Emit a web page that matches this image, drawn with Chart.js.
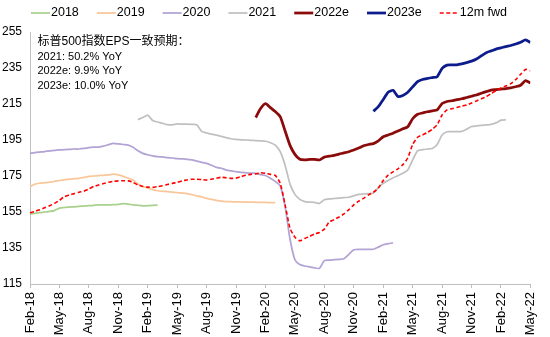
<!DOCTYPE html>
<html>
<head>
<meta charset="utf-8">
<script src="https://cdn.jsdelivr.net/npm/chart.js@4"></script>
<style>
  html, body { margin: 0; padding: 0; background: #fff; }
  #wrap { width: 550px; height: 337px; }
</style>
</head>
<body>
<div id="wrap"><canvas id="epsChart"></canvas></div>
<script>
// x axis runs in months from Feb-18 (0) to May-22 (51); points every half month
const tickLabels = ["Feb-18", "May-18", "Aug-18", "Nov-18", "Feb-19", "May-19", "Aug-19", "Nov-19",
  "Feb-20", "May-20", "Aug-20", "Nov-20", "Feb-21", "May-21", "Aug-21", "Nov-21", "Feb-22", "May-22"];

const seriesNames = ["2018", "2019", "2020", "2021", "2022e", "2023e", "12m fwd"];

const start2018 = 0;
const eps2018 = [153.9, 154.3, 154.6, 155.0, 155.3, 155.8, 157.2, 157.5, 157.7, 157.9, 158.1, 158.3, 158.5,
  158.7, 158.9, 158.9, 159.0, 159.1, 159.3, 159.6, 159.4, 159.0, 158.7, 158.4, 158.5, 158.7, 158.8];

const start2019 = 0;
const eps2019 = [169.0, 170.5, 171.0, 171.3, 171.6, 172.0, 172.5, 172.9, 173.2, 173.5, 173.7, 174.2, 174.8,
  175.0, 175.2, 175.4, 175.6, 176.0, 175.6, 174.8, 173.8, 172.8, 170.5, 169.2, 168.3, 167.4, 166.8, 166.5,
  166.3, 166.0, 165.8, 165.5, 165.2, 164.6, 164.0, 163.4, 162.6, 162.0, 161.5, 161.0, 160.8, 160.7, 160.6,
  160.6, 160.5, 160.5, 160.4, 160.3, 160.3, 160.2, 160.2];

const start2020 = 0;
const eps2020 = [187.6, 188.0, 188.3, 188.6, 189.0, 189.2, 189.5, 189.6, 189.8, 190.0, 190.0, 190.3, 190.8,
  191.0, 191.1, 191.6, 192.4, 193.1, 192.8, 192.5, 192.2, 191.0, 189.0, 187.6, 186.8, 186.2, 185.7, 185.6,
  185.2, 185.0, 184.7, 184.5, 184.3, 183.9, 183.3, 182.6, 182.0, 181.0, 179.8, 179.3, 178.3, 177.8, 177.4,
  177.0, 176.8, 176.6, 176.5, 175.8, 175.3, 173.8, 172.0, 169.5, 158.0, 140.0, 128.5, 125.8, 125.0, 124.5,
  124.0, 123.7, 128.0, 128.3, 128.5, 128.7, 129.0, 131.5, 134.0, 134.2, 134.2, 134.3, 134.3, 135.5, 136.8,
  137.4, 137.9];

const start2021 = 11;
const eps2021 = [206.3, 207.5, 208.8, 205.8, 205.0, 204.3, 203.5, 203.4, 203.9, 203.8, 203.8, 203.7, 203.5,
  199.8, 199.0, 198.3, 197.7, 197.0, 196.3, 195.7, 195.3, 195.1, 195.0, 194.8, 194.7, 194.5, 194.3, 193.5,
  192.2, 188.5, 181.0, 170.5, 164.8, 162.0, 160.8, 160.5, 160.3, 159.8, 161.8, 162.3, 162.5, 162.7, 163.0,
  163.2, 164.0, 164.8, 165.0, 165.2, 165.6, 168.5, 171.0, 172.5, 174.0, 175.2, 176.5, 178.3, 184.0, 189.0,
  189.6, 190.0, 190.3, 192.5, 197.8, 199.6, 199.6, 199.6, 199.8, 201.0, 202.5, 202.8, 203.1, 203.4, 203.7,
  204.5, 206.0, 206.3];

const start2022 = 23;
const eps2022 = [207.5, 212.5, 215.2, 213.0, 210.8, 208.0, 200.0, 192.0, 187.0, 184.3, 184.0, 184.2, 184.3,
  183.9, 185.5, 186.0, 186.5, 187.2, 187.8, 188.5, 189.4, 190.5, 191.8, 192.5, 193.0, 194.5, 196.8, 197.8,
  198.8, 200.0, 201.2, 202.4, 206.8, 209.3, 210.0, 210.7, 211.2, 211.7, 215.3, 216.4, 216.8, 217.4, 217.9,
  218.6, 219.3, 220.0, 221.0, 221.9, 222.7, 223.0, 223.3, 223.6, 224.0, 224.6, 225.4, 228.0, 226.7];

const start2023 = 35;
const eps2023 = [211.0, 213.5, 217.5, 221.5, 222.6, 219.2, 219.7, 221.5, 224.5, 227.4, 228.6, 229.2, 229.7,
  230.2, 234.8, 236.6, 236.7, 236.8, 237.3, 238.0, 238.8, 240.0, 241.8, 243.5, 244.5, 245.5, 246.2, 246.9,
  247.5, 248.3, 249.3, 250.6, 249.2];

const startFwd = 0;
const eps12mFwd = [154.6, 155.3, 156.3, 157.3, 158.5, 159.8, 161.5, 163.5, 164.4, 165.2, 166.0, 166.6, 167.8,
  169.2, 170.0, 170.8, 171.5, 172.0, 172.3, 172.4, 172.3, 171.5, 170.0, 169.2, 168.8, 168.7, 169.1, 169.6,
  170.3, 170.9, 171.5, 172.3, 172.8, 173.2, 173.2, 173.0, 172.8, 173.2, 173.8, 174.3, 174.0, 173.7, 173.8,
  174.6, 175.4, 175.9, 176.2, 176.8, 176.5, 175.9, 175.3, 171.0, 159.0, 146.0, 141.0, 139.0, 140.3, 141.5,
  142.8, 143.6, 145.5, 149.5, 150.8, 152.2, 154.0, 156.3, 159.0, 161.0, 162.6, 164.5, 166.0, 168.3, 172.5,
  175.5, 177.3, 179.0, 181.3, 185.0, 192.5, 196.5, 197.8, 199.2, 201.0, 203.5, 208.9, 211.7, 212.4, 213.1,
  213.8, 214.4, 215.5, 216.7, 217.9, 219.1, 220.8, 222.5, 223.9, 225.0, 226.3, 228.5, 231.5, 234.2, 233.5];

const noteLines = ["标普500指数EPS一致预期：", "2021: 50.2% YoY", "2022e: 9.9% YoY", "2023e: 10.0% YoY"];

function toPoints(start, values) {
  return values.map((v, i) => ({ x: start + i * 0.5, y: v }));
}

function line(label, start, values, color, width, extra) {
  return Object.assign({
    label: label,
    data: toPoints(start, values),
    borderColor: color,
    backgroundColor: color,
    borderWidth: width,
    pointRadius: 0,
    tension: 0.2,
    fill: false,
  }, extra || {});
}

const FONT = "'Liberation Sans', Arial, 'Noto Sans CJK SC', sans-serif";

// legend across the top: short line sample, then the name
const topLegend = {
  id: "topLegend",
  afterDraw(chart) {
    const ctx = chart.ctx;
    ctx.save();
    ctx.font = "12.5px " + FONT;
    ctx.textBaseline = "middle";
    ctx.textAlign = "left";
    let x = 31;
    const y = 13;
    chart.data.datasets.forEach((ds) => {
      ctx.beginPath();
      ctx.strokeStyle = ds.borderColor;
      ctx.lineWidth = ds.borderWidth;
      ctx.setLineDash(ds.borderDash || []);
      ctx.moveTo(x, y);
      ctx.lineTo(x + 19, y);
      ctx.stroke();
      ctx.setLineDash([]);
      ctx.fillStyle = "#000";
      ctx.fillText(ds.label, x + 20, y);
      x += 19 + 1 + ctx.measureText(ds.label).width + 18;
    });
    ctx.restore();
  },
};

// consensus growth note in the upper left of the plot
const growthNote = {
  id: "growthNote",
  afterDraw(chart) {
    const ctx = chart.ctx;
    const area = chart.chartArea;
    ctx.save();
    ctx.fillStyle = "#000";
    ctx.textBaseline = "middle";
    ctx.textAlign = "left";
    noteLines.forEach((t, i) => {
      ctx.font = (i === 0 ? "12px " : "11px ") + FONT;
      ctx.fillText(t, area.left + 7.5, area.top + 10 + i * 14.5);
    });
    ctx.restore();
  },
};

const datasets = [
  line(seriesNames[0], start2018, eps2018, "#a9d18e", 1.75),
  line(seriesNames[1], start2019, eps2019, "#f9c79a", 1.75),
  line(seriesNames[2], start2020, eps2020, "#b3a3d5", 1.75),
  line(seriesNames[3], start2021, eps2021, "#c0c0c0", 1.75),
  line(seriesNames[4], start2022, eps2022, "#8b0a0a", 2.75),
  line(seriesNames[5], start2023, eps2023, "#0d1c8c", 2.75),
  line(seriesNames[6], startFwd, eps12mFwd, "#ff0000", 1.6, { borderDash: [4, 2.5], order: -1 }),
];

new Chart(document.getElementById("epsChart"), {
  type: "line",
  data: { datasets: datasets },
  options: {
    responsive: true,
    maintainAspectRatio: false,
    animation: false,
    layout: { padding: { top: 32, right: 8, left: 0, bottom: 0 } },
    plugins: {
      legend: { display: false },
      tooltip: { enabled: false },
    },
    scales: {
      x: {
        type: "linear",
        min: 0,
        max: 51,
        afterFit: (scale) => { scale.height = 53; },
        grid: { display: true, drawOnChartArea: false, drawTicks: true, tickLength: 4, color: "#bfbfbf" },
        border: { display: true, color: "#bfbfbf", width: 1 },
        ticks: {
          stepSize: 3,
          autoSkip: false,
          maxRotation: 90,
          minRotation: 90,
          padding: 4,
          color: "#000",
          font: { family: FONT, size: 13 },
          callback: (v) => tickLabels[Math.round(v / 3)],
        },
      },
      y: {
        min: 115,
        max: 255,
        afterFit: (scale) => { scale.width = 30; },
        grid: { display: false, drawTicks: false },
        border: { display: true, color: "#bfbfbf", width: 1 },
        ticks: {
          stepSize: 20,
          padding: 8,
          color: "#000",
          font: { family: FONT, size: 12 },
        },
      },
    },
  },
  plugins: [topLegend, growthNote],
});
</script>
</body>
</html>
